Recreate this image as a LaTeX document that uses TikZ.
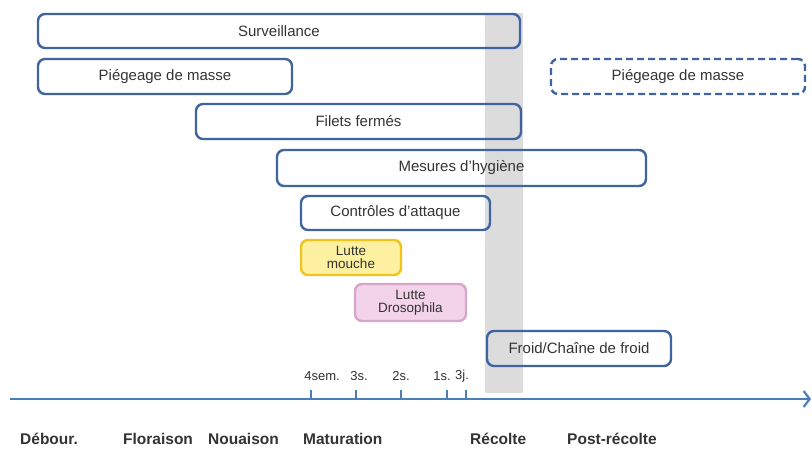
\documentclass[tikz,border=0pt]{standalone}
\usepackage{fontspec}
\setmainfont{Liberation Sans}
\usetikzlibrary{arrows.meta}
\definecolor{bord}{HTML}{3F64A0}
\definecolor{axc}{HTML}{4A7EBB}
\definecolor{band}{HTML}{DCDCDC}
\definecolor{txt}{HTML}{333333}
\definecolor{yfill}{HTML}{FDF0A0}
\definecolor{ybord}{HTML}{F2C318}
\definecolor{pfill}{HTML}{F2D3EA}
\definecolor{pbord}{HTML}{D8A5CB}
\tikzset{
  box/.style={draw=bord, line width=2.4pt, rounded corners=7pt, inner sep=0pt, text=txt,
    font=\fontsize{15}{17}\selectfont, align=center},
  small/.style={font=\fontsize{13.5}{15}\selectfont},
  ticklab/.style={text=txt, font=\fontsize{13}{15}\selectfont, inner sep=0pt},
  phase/.style={text=txt, font=\bfseries\fontsize{15.5}{17}\selectfont, inner sep=0pt, anchor=west},
}
\begin{document}
\begin{tikzpicture}[x=1pt,y=-1pt]
\useasboundingbox (0,0) rectangle (812,448);
% grey harvest band
\fill[band] (485,13) rectangle (523,393);
% boxes
\node[box, minimum width=482pt, minimum height=34pt] (surv) at (279,31) {Surveillance};
\node[box, minimum width=254pt, minimum height=35pt] (piege) at (165,76.5) {Piégeage de masse};
\node[box, dashed, dash pattern=on 7pt off 4pt, minimum width=254pt, minimum height=35pt] (piege2) at (678,76.5) {Piégeage de masse};
\node[box, minimum width=325pt, minimum height=35pt] (filets) at (358.5,121.5) {Filets fermés};
\node[box, minimum width=369pt, minimum height=36pt] (hyg) at (461.5,168) {Mesures d’hygiène};
\node[box, minimum width=189pt, minimum height=34pt] (ctrl) at (395.5,213) {Contrôles d’attaque};
\node[box, small, draw=ybord, fill=yfill, minimum width=100pt, minimum height=35pt] (mouche) at (351,257.5) {Lutte\\[-2pt]mouche};
\node[box, small, draw=pbord, fill=pfill, minimum width=111pt, minimum height=37pt] (droso) at (410.5,302.5) {Lutte\\[-2pt]Drosophila};
\node[box, minimum width=184pt, minimum height=35pt] (froid) at (579,348.5) {Froid/Chaîne de froid};
% axis
\coordinate (axL) at (10,399);
\coordinate (axR) at (811,399);
\draw[axc, line width=2.6pt, -{Straight Barb[length=6pt,width=16pt,line width=2.2pt]}] (axL) -- (axR);
\foreach \n/\x in {t1/311,t2/356,t3/401,t4/447,t5/466}{
  \coordinate (\n) at (\x,399);
  \draw[axc, line width=1.6pt] (\n) -- ++(0,-9);
}
\node[ticklab] (l1) at (322,376) {4sem.};
\node[ticklab] (l2) at (359,376) {3s.};
\node[ticklab] (l3) at (401,376) {2s.};
\node[ticklab] (l4) at (442,376) {1s.};
\node[ticklab] (l5) at (462,376) {3j.};
% phases
\node[phase] (p1) at (20,439) {Débour.};
\node[phase] (p2) at (123,439) {Floraison};
\node[phase] (p3) at (208,439) {Nouaison};
\node[phase] (p4) at (303,439) {Maturation};
\node[phase] (p5) at (470,439) {Récolte};
\node[phase] (p6) at (567,439) {Post-récolte};
\end{tikzpicture}
\end{document}
